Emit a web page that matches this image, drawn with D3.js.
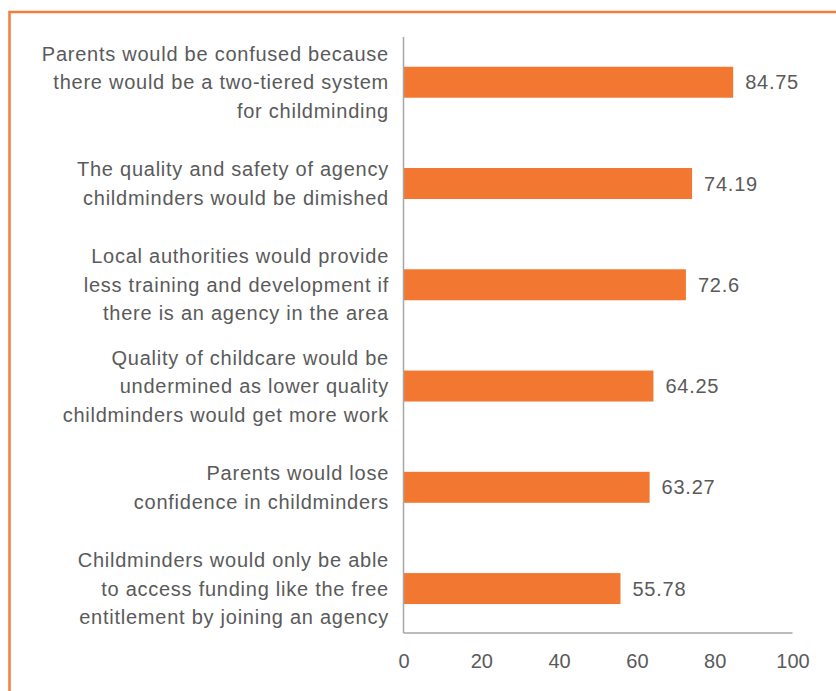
<!DOCTYPE html>
<html>
<head>
<meta charset="utf-8">
<script src="https://cdn.jsdelivr.net/npm/d3@7"></script>
<style>
  html, body { margin: 0; padding: 0; background: #fff; }
  svg { display: block; }
</style>
</head>
<body>
<svg id="chart" width="836" height="691"></svg>
<script>
// Reasons given, top to bottom, each split into its display lines
const categories = [
  ["Parents would be confused because", "there would be a two-tiered system", "for childminding"],
  ["The quality and safety of agency", "childminders would be dimished"],
  ["Local authorities would provide", "less training and development if", "there is an agency in the area"],
  ["Quality of childcare would be", "undermined as lower quality", "childminders would get more work"],
  ["Parents would lose", "confidence in childminders"],
  ["Childminders would only be able", "to access funding like the free", "entitlement by joining an agency"]
];
const values = [84.75, 74.19, 72.6, 64.25, 63.27, 55.78];
const valueLabels = ["84.75", "74.19", "72.6", "64.25", "63.27", "55.78"];
const xTicks = [0, 20, 40, 60, 80, 100];

const svg = d3.select("#chart");
const orange = "#F27832";
const textColor = "#5A5A5A";
const axisColor = "#A6A6A6";
const font = "'Liberation Sans', Arial, Helvetica, sans-serif";
const fontSize = 20;
const spacing = 0.75;

// Orange frame (top and left edges)
svg.append("path")
  .attr("d", "M9.5,691 L9.5,12 L836,12")
  .attr("fill", "none")
  .attr("stroke", "#F47D3A")
  .attr("stroke-width", 2.5);

const ids = categories.map((c, i) => i);

const x = d3.scaleLinear().domain([0, 100]).range([403.5, 792.5]);
const y = d3.scaleBand().domain(ids).range([31.6, 639.2])
  .paddingInner(0.694).paddingOuter(0.347);

const plotTop = 37, plotBottom = 633;

// Bars
svg.append("g").selectAll("rect")
  .data(values)
  .join("rect")
  .attr("x", x(0))
  .attr("y", (d, i) => y(i))
  .attr("width", d => x(d) - x(0))
  .attr("height", y.bandwidth())
  .attr("fill", orange);

// Value labels
svg.append("g").selectAll("text")
  .data(values)
  .join("text")
  .attr("x", d => x(d) + 12)
  .attr("y", (d, i) => y(i) + y.bandwidth() / 2)
  .attr("dy", "0.35em")
  .attr("font-family", font)
  .attr("font-size", fontSize)
  .attr("letter-spacing", spacing)
  .attr("fill", textColor)
  .text((d, i) => valueLabels[i]);

// Axis lines
svg.append("line")
  .attr("x1", x(0)).attr("x2", x(0))
  .attr("y1", plotTop).attr("y2", plotBottom)
  .attr("stroke", axisColor).attr("stroke-width", 1.5);
svg.append("line")
  .attr("x1", x(0)).attr("x2", x(100))
  .attr("y1", plotBottom).attr("y2", plotBottom)
  .attr("stroke", axisColor).attr("stroke-width", 1.5);

// X tick labels
const xAxis = d3.axisBottom(x).tickValues(xTicks).tickSize(0).tickPadding(0);
const gx = svg.append("g")
  .attr("transform", `translate(0,${plotBottom + 21})`)
  .call(xAxis);
gx.select(".domain").remove();
gx.selectAll("text")
  .attr("font-family", font)
  .attr("font-size", fontSize)
  .attr("fill", textColor);

// Category labels, right-aligned, lines centred on each bar
const lineHeight = 28.5;
const labels = svg.append("g").selectAll("text")
  .data(categories)
  .join("text")
  .attr("text-anchor", "end")
  .attr("font-family", font)
  .attr("font-size", fontSize)
  .attr("letter-spacing", spacing)
  .attr("fill", textColor);
labels.each(function(lines, i) {
  const cy = y(i) + y.bandwidth() / 2;
  const start = cy - (lines.length - 1) * lineHeight / 2;
  d3.select(this).selectAll("tspan")
    .data(lines)
    .join("tspan")
    .attr("x", 389)
    .attr("y", (d, j) => start + j * lineHeight)
    .attr("dy", "0.35em")
    .text(d => d);
});
</script>
</body>
</html>
